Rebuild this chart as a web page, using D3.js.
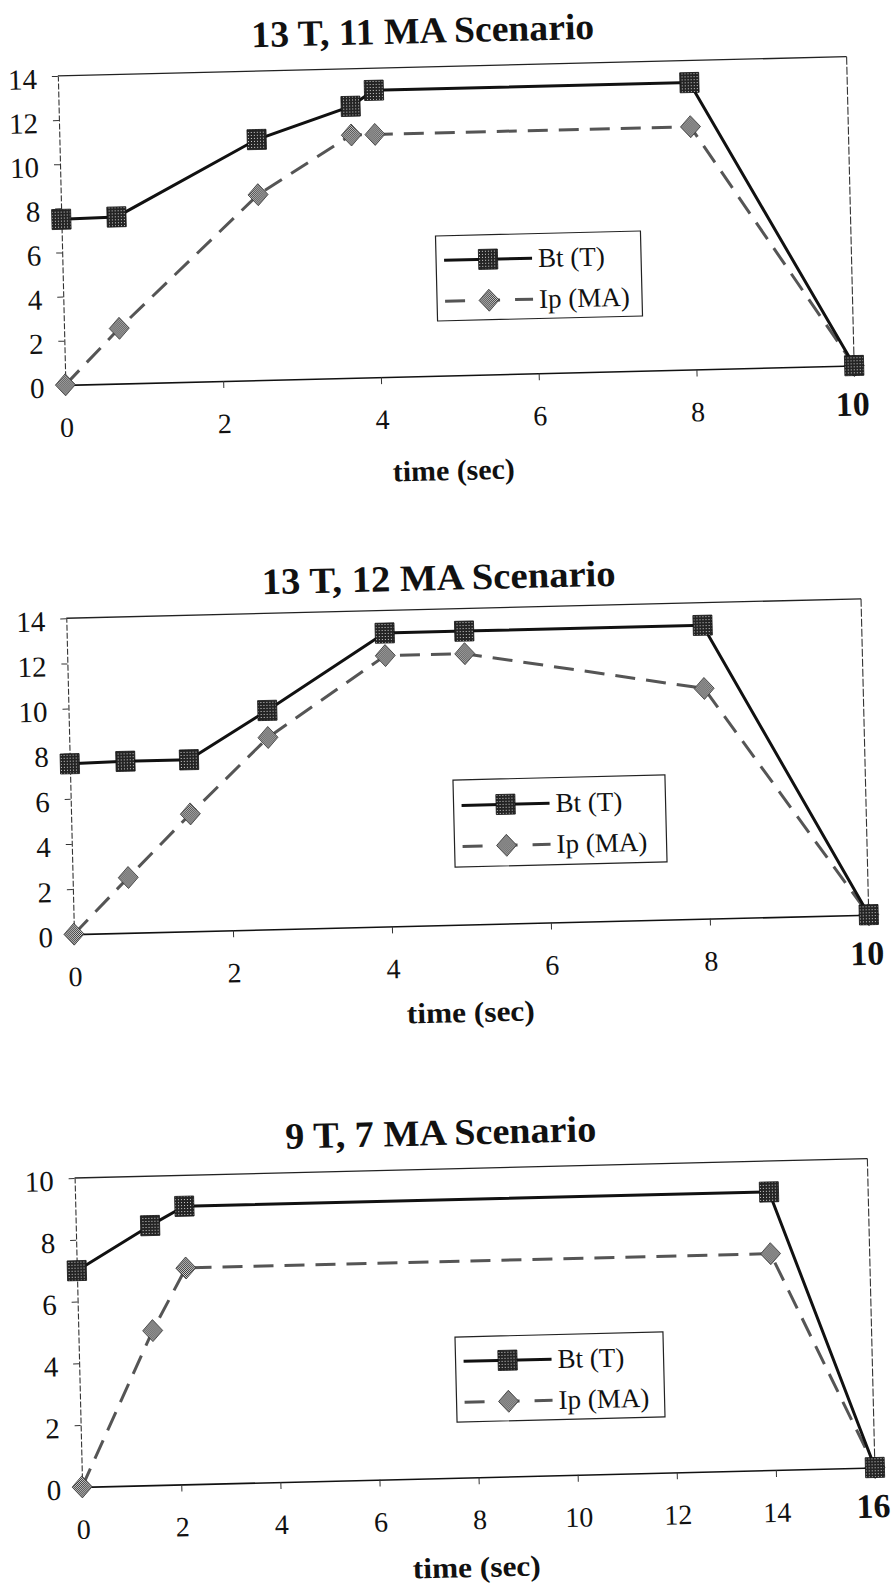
<!DOCTYPE html>
<html><head><meta charset="utf-8">
<script src="https://cdn.jsdelivr.net/npm/d3@7"></script>
<style>
html,body{margin:0;padding:0;background:#fff;}
svg{display:block;}
</style></head><body>
<svg id="chart" width="894" height="1591"></svg>
<script>
// ---------- data ----------
const titles = ["13 T, 11 MA Scenario", "13 T, 12 MA Scenario", "9 T, 7 MA Scenario"];
const seriesNames = ["Bt (T)", "Ip (MA)"];
const xLabel = "time (sec)";

const time1 = [0, 0.7, 2.5, 3.7, 4, 8, 10];
const bt1   = [7.5, 7.55, 10.9, 12.3, 13, 13, 0];
const ip1   = [0, 2.5, 8.4, 11, 11, 11, 0];

const time2 = [0, 0.7, 1.5, 2.5, 4, 5, 8, 10];
const bt2   = [7.55, 7.6, 7.6, 9.7, 13, 13, 13, 0];
const ip2   = [0, 2.45, 5.2, 8.5, 12, 12, 10.2, 0];

const time3 = [0, 1.5, 2.2, 14, 16];
const bt3   = [7, 8.4, 9, 9, 0];
const ip3   = [0, 5, 7, 7, 0];

const xTicks10 = [0, 2, 4, 6, 8, 10];
const xTicks16 = [0, 2, 4, 6, 8, 10, 12, 14, 16];
const yTicks14 = [0, 2, 4, 6, 8, 10, 12, 14];
const yTicks10 = [0, 2, 4, 6, 8, 10];

// ---------- layout (positions measured from the page) ----------
const serif = "'Liberation Serif','Times New Roman',serif";
const charts = [
  {title: titles[0], time: time1, bt: bt1, ip: ip1, xMax: 10, yMax: 14, xTicks: xTicks10, yTicks: yTicks14,
   frame: {cx: 456, cy: 220.75, w: 789, h: 309}, rot: -1.4,
   titlePos: [423, 43, 343], xlabPos: [454, 480, 122], legend: [539, 276, 205, 85]},
  {title: titles[1], time: time2, bt: bt2, ip: ip2, xMax: 10, yMax: 14, xTicks: xTicks10, yTicks: yTicks14,
   frame: {cx: 467.5, cy: 766.5, w: 795, h: 316}, rot: -1.4,
   titlePos: [439, 590, 354], xlabPos: [471, 1022, 128], legend: [560, 821, 212, 87]},
  {title: titles[2], time: time3, bt: bt3, ip: ip3, xMax: 16, yMax: 10, xTicks: xTicks16, yTicks: yTicks10,
   frame: {cx: 474.75, cy: 1322.75, w: 793, h: 309}, rot: -1.4,
   titlePos: [441, 1145, 311], xlabPos: [477, 1577, 128], legend: [560, 1377, 208, 85]}
];

const svg = d3.select("#chart");
const defs = svg.append("defs");
const p1 = defs.append("pattern").attr("id", "sqfill").attr("width", 3).attr("height", 3)
  .attr("patternUnits", "userSpaceOnUse");
p1.append("rect").attr("width", 3).attr("height", 3).attr("fill", "#242424");
p1.append("rect").attr("x", 1).attr("y", 1).attr("width", 1).attr("height", 1).attr("fill", "#d0d0d0");
const p2 = defs.append("pattern").attr("id", "dmfill").attr("width", 2).attr("height", 2)
  .attr("patternUnits", "userSpaceOnUse");
p2.append("rect").attr("width", 2).attr("height", 2).attr("fill", "#d8d8d8");
p2.append("rect").attr("width", 1).attr("height", 1).attr("fill", "#303030");
p2.append("rect").attr("x", 1).attr("y", 1).attr("width", 1).attr("height", 1).attr("fill", "#303030");

const diamondPath = "M0,-11L10,0L0,11L-10,0Z";
const SQ = 19;

function square(sel, cx, cy) {
  sel.append("rect").attr("x", cx - SQ / 2).attr("y", cy - SQ / 2 - 0.5).attr("width", SQ).attr("height", SQ + 1)
    .attr("fill", "url(#sqfill)").attr("stroke", "#111").attr("stroke-width", 0.8);
}
function diamond(sel, cx, cy) {
  sel.append("path").attr("d", diamondPath).attr("transform", `translate(${cx},${cy})`)
    .attr("fill", "url(#dmfill)").attr("stroke", "#333").attr("stroke-width", 0.8);
}

charts.forEach(c => {
  const f = c.frame;
  const left = f.cx - f.w / 2, right = f.cx + f.w / 2, top = f.cy - f.h / 2, bottom = f.cy + f.h / 2;
  const g = svg.append("g").attr("transform", `rotate(${c.rot},${f.cx},${f.cy})`);
  const a = -c.rot * Math.PI / 180;
  const unrot = (px, py) => {
    const dx = px - f.cx, dy = py - f.cy;
    return [f.cx + dx * Math.cos(a) - dy * Math.sin(a), f.cy + dx * Math.sin(a) + dy * Math.cos(a)];
  };

  const x = d3.scaleLinear().domain([0, c.xMax]).range([left, right]);
  const y = d3.scaleLinear().domain([0, c.yMax]).range([bottom, top]);

  // title
  const [tx, ty] = unrot(c.titlePos[0], c.titlePos[1]);
  g.append("text").attr("x", tx).attr("y", ty).attr("text-anchor", "middle")
    .attr("font-family", serif).attr("font-weight", "bold").attr("font-size", 37).attr("fill", "#111")
    .attr("textLength", c.titlePos[2]).attr("lengthAdjust", "spacingAndGlyphs").text(c.title);

  // frame top & right
  g.append("line").attr("x1", left).attr("x2", right).attr("y1", top).attr("y2", top)
    .attr("stroke", "#222").attr("stroke-width", 1.3);
  g.append("line").attr("x1", right).attr("x2", right).attr("y1", top).attr("y2", bottom)
    .attr("stroke", "#333").attr("stroke-width", 1.1).attr("stroke-dasharray", "8,2");

  // y axis
  const ya = g.append("g").attr("transform", `translate(${left},0)`)
    .call(d3.axisLeft(y).tickValues(c.yTicks).tickSize(6).tickSizeOuter(0).tickFormat(d3.format("d")));
  ya.attr("font-family", serif).attr("font-size", 29);
  ya.select(".domain").attr("stroke", "#333").attr("stroke-width", 1.1).attr("stroke-dasharray", "6,2");
  ya.selectAll(".tick line").attr("stroke", "#333");
  ya.selectAll(".tick text").attr("x", -21).attr("dy", 12).attr("fill", "#111");

  // x axis
  const xa = g.append("g").attr("transform", `translate(0,${bottom})`)
    .call(d3.axisBottom(x).tickValues(c.xTicks).tickSize(7).tickSizeOuter(0).tickFormat(d3.format("d")));
  xa.attr("font-family", serif).attr("font-size", 28);
  xa.select(".domain").attr("stroke", "#111").attr("stroke-width", 1.6);
  xa.selectAll(".tick line").attr("stroke", "#333");
  xa.selectAll(".tick text").attr("y", 52).attr("dy", 0).attr("fill", "#111");
  xa.selectAll(".tick text").filter(d => d === c.xMax)
    .attr("font-weight", "bold").attr("font-size", 34).attr("y", 50).attr("x", -3);

  // x label
  const [lx, ly] = unrot(c.xlabPos[0], c.xlabPos[1]);
  g.append("text").attr("x", lx).attr("y", ly).attr("text-anchor", "middle")
    .attr("font-family", serif).attr("font-weight", "bold").attr("font-size", 29).attr("fill", "#111")
    .attr("textLength", c.xlabPos[2]).attr("lengthAdjust", "spacingAndGlyphs").text(xLabel);

  // series lines
  const line = d3.line().x((d, i) => x(c.time[i])).y(d => y(d));
  g.append("path").datum(c.ip).attr("d", line).attr("fill", "none")
    .attr("stroke", "#555").attr("stroke-width", 3).attr("stroke-dasharray", "20,11");
  g.append("path").datum(c.bt).attr("d", line).attr("fill", "none")
    .attr("stroke", "#111").attr("stroke-width", 3);
  // markers
  c.ip.forEach((v, i) => diamond(g, x(c.time[i]), y(v)));
  c.bt.forEach((v, i) => square(g, x(c.time[i]), y(v)));

  // legend
  const [lcx, lcy] = unrot(c.legend[0], c.legend[1]);
  const lw = c.legend[2], lh = c.legend[3];
  const lg = g.append("g").attr("transform", `translate(${lcx - lw / 2},${lcy - lh / 2})`);
  lg.append("rect").attr("width", lw).attr("height", lh).attr("fill", "#fff")
    .attr("stroke", "#222").attr("stroke-width", 1.2);
  const rows = [lh / 2 - 18, lh / 2 + 23];
  lg.append("line").attr("x1", 8).attr("x2", 96).attr("y1", rows[0]).attr("y2", rows[0])
    .attr("stroke", "#111").attr("stroke-width", 3);
  square(lg, 52, rows[0]);
  lg.append("line").attr("x1", 8).attr("x2", 96).attr("y1", rows[1]).attr("y2", rows[1])
    .attr("stroke", "#555").attr("stroke-width", 3).attr("stroke-dasharray", "20,15");
  diamond(lg, 52, rows[1]);
  seriesNames.forEach((s, i) => {
    lg.append("text").attr("x", 102).attr("y", rows[i] + 9).attr("font-family", serif)
      .attr("font-size", 27).attr("fill", "#111").text(s);
  });
});
</script>
</body></html>
